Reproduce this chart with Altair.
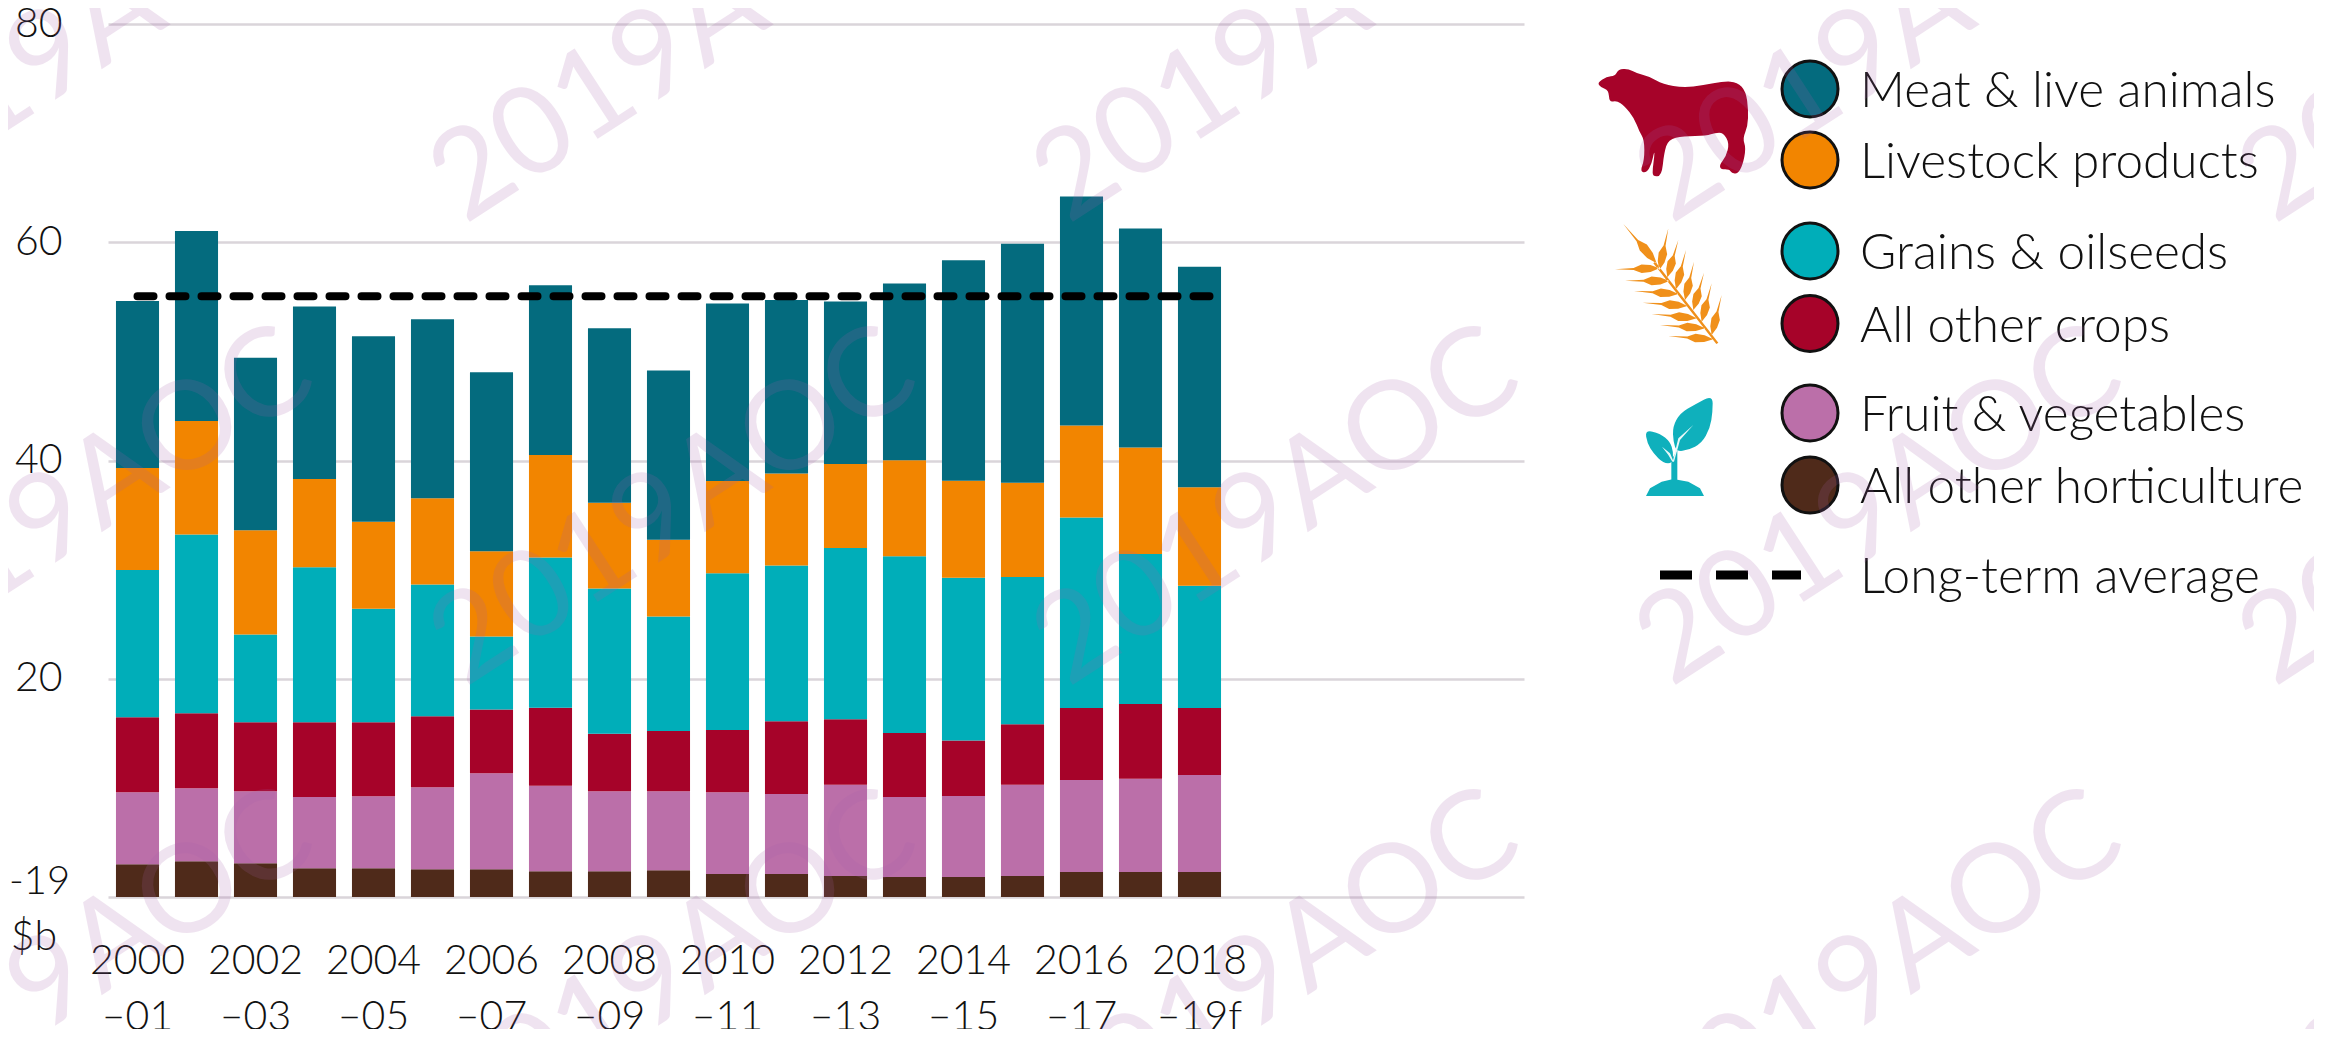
import altair as alt
import pandas as pd

# ---- data ($b) ----
categories = ["2000–01","2001–02","2002–03","2003–04","2004–05","2005–06","2006–07","2007–08","2008–09","2009–10",
              "2010–11","2011–12","2012–13","2013–14","2014–15","2015–16","2016–17","2017–18","2018–19f"]
spare_slots = [" ", "  ", "   ", "    ", "     "]
other_horticulture = [3.0,3.27,3.09,2.63,2.63,2.54,2.54,2.35,2.35,2.44,2.11,2.11,1.92,1.83,1.83,1.92,2.29,2.29,2.29]
fruit_vegetables   = [6.6,6.69,6.6,6.54,6.6,7.52,8.8,7.85,7.33,7.24,7.49,7.33,8.37,7.33,7.42,8.37,8.43,8.55,8.89]
other_crops        = [6.87,6.87,6.32,6.84,6.78,6.51,5.84,7.15,5.29,5.53,5.71,6.66,5.99,5.87,5.1,5.53,6.6,6.84,6.14]
grains_oilseeds    = [13.5,16.4,8.04,14.2,10.4,12.07,6.69,13.75,13.3,10.5,14.36,14.27,15.7,16.2,14.9,13.5,17.45,13.75,11.2]
livestock_products = [9.35,10.4,9.56,8.1,7.97,7.91,7.82,9.41,7.85,7.03,8.46,8.43,7.7,8.8,8.89,8.65,8.43,9.75,9.04]
meat_live_animals  = [15.3,17.4,15.8,15.8,17.0,16.4,16.4,15.55,16.0,15.5,16.25,15.9,14.9,16.2,20.2,21.9,21.0,20.07,20.2]
long_term_average = 55.05

names = ["All other horticulture","Fruit & vegetables","All other crops","Grains & oilseeds","Livestock products","Meat & live animals"]
series = [other_horticulture, fruit_vegetables, other_crops, grains_oilseeds, livestock_products, meat_live_animals]
colors = ["#4F2A1A","#BB6FA9","#A60329","#00AEB9","#F28500","#046B7E"]
y_ticks = [0,20,40,60,80]
watermark = "2019AOC"

# ---- layout (page pixels) ----
PL, PT, W, H = 108, 24, 1416, 873
FONT, WEIGHT = "Lato", 300
INK = "#111111"
def px(x): return x - PL
def py(y): return y - PT

rows = [{"cat":c,"name":n,"idx":i,"v":s[j]} for i,(n,s) in enumerate(zip(names,series)) for j,c in enumerate(categories)]
df = pd.DataFrame(rows)
domain = categories + spare_slots
xscale = alt.Scale(domain=domain, paddingInner=0.27, paddingOuter=0.135)
yscale = alt.Scale(domain=[0,80], nice=False)

bars = alt.Chart(df).mark_bar().encode(
    x=alt.X("cat:N", scale=xscale, title=None, sort=None, axis=alt.Axis(
        values=categories[::2], labelAngle=0, labelOverlap=False, ticks=False, domain=False, grid=False,
        labelExpr="[slice(datum.label,0,4), slice(datum.label,4)]",
        labelFont=FONT, labelFontWeight=WEIGHT, labelFontSize=41, labelColor=INK,
        labelLineHeight=56, labelPadding=44, labelBaseline="top", labelAlign="center")),
    y=alt.Y("v:Q", stack="zero", scale=yscale, title=None, axis=alt.Axis(
        values=y_ticks, grid=True, gridColor="#DAD5DA", gridWidth=2.5, ticks=False, domain=False,
        labelExpr="datum.value==0 ? '' : datum.label",
        labelFont=FONT, labelFontWeight=WEIGHT, labelFontSize=41, labelColor=INK, labelPadding=46)),
    color=alt.Color("name:N", scale=alt.Scale(domain=names, range=colors), legend=None),
    order=alt.Order("idx:Q"),
)

avg = alt.Chart(pd.DataFrame({"cat":[categories[0]],"v":[long_term_average]})).mark_rule(
    color="black", strokeWidth=8, strokeDash=[16,16], strokeCap="round").encode(
    x=alt.X("cat:N", scale=xscale), x2=alt.value(px(1224)), y=alt.Y("v:Q", scale=yscale))

def label(text, x, y, size=41, align="left", base="middle"):
    return alt.Chart(pd.DataFrame({"t":[text]})).mark_text(
        font=FONT, fontWeight=WEIGHT, fontSize=size, color=INK, align=align, baseline=base).encode(
        x=alt.value(px(x)), y=alt.value(py(y)), text="t:N")

layers = [bars, avg, label("-19", 9, 882, size=40, align="left"), label("$b", 57, 938, align="right")]

# ---- legend ----
legend_rows = [("Meat & live animals",89),("Livestock products",160),("Grains & oilseeds",251),
               ("All other crops",323.5),("Fruit & vegetables",413),("All other horticulture",485)]
cmap = dict(zip(names,colors))
for n,y in legend_rows:
    layers.append(alt.Chart(pd.DataFrame({"n":[n]})).mark_point(filled=True, shape="circle", size=3136,
        fill=cmap[n], stroke="#111111", strokeWidth=3, opacity=1).encode(
        x=alt.value(px(1810)), y=alt.value(py(y))))
    layers.append(label(n, 1860, y+3, size=49.5))
layers.append(alt.Chart(pd.DataFrame({"v":[1]})).mark_rule(color="black", strokeWidth=9, strokeDash=[32,24]).encode(
    x=alt.value(px(1660)), x2=alt.value(px(1801)), y=alt.value(py(575))))
layers.append(label("Long-term average", 1860, 578, size=49.5))

# ---- icons: silhouettes as custom symbols, outlined in 3x crop coordinates of the icon's box ----
def icon(polys, fill, ox, oy, smooth=()):
    pts = [(ox+a/3, oy+b/3) for p in polys for a,b in p]
    xs,ys = [a for a,_ in pts],[b for _,b in pts]
    cx,cy = (min(xs)+max(xs))/2,(min(ys)+max(ys))/2
    R = max(max(xs)-min(xs),max(ys)-min(ys))/2
    d = ""
    for k,p in enumerate(polys):
        q = [((ox+a/3-cx)/R,(oy+b/3-cy)/R) for a,b in p]
        if k in smooth:
            n = len(q)
            mid = lambda i: ((q[i%n][0]+q[(i+1)%n][0])/2,(q[i%n][1]+q[(i+1)%n][1])/2)
            s = mid(-1)
            d += f"M{s[0]:.4f},{s[1]:.4f}"
            for i in range(n):
                m = mid(i)
                d += f"Q{q[i][0]:.4f},{q[i][1]:.4f},{m[0]:.4f},{m[1]:.4f}"
            d += "Z"
        else:
            d += "M" + "L".join(f"{a:.4f},{b:.4f}" for a,b in q) + "Z"
    return alt.Chart(pd.DataFrame({"i":[1]})).mark_point(filled=True, shape=d, size=(2*R)**2, fill=fill, opacity=1, strokeWidth=0).encode(
        x=alt.value(px(cx)), y=alt.value(py(cy)))

cow = [[(22,68),(50,50),(75,48),(85,28),(115,26),(140,40),(175,48),(220,73),(280,83),(340,76),(400,64),(442,66),(468,95),
        (475,150),(473,200),(458,235),(468,265),(458,315),(443,342),(425,339),(418,328),(393,328),(388,315),(408,290),(418,250),
        (400,218),(375,218),(350,228),(280,228),(235,238),(222,280),(215,348),(188,350),(188,325),(193,290),(193,272),(185,312),
        (170,338),(150,335),(163,300),(163,240),(148,215),(133,175),(103,137),(80,122),(58,127),(56,90),(32,82)]]

def grain(tx,ty,bx,by,hw=13):
    ux,uy = bx-tx,by-ty
    L = (ux*ux+uy*uy)**0.5
    nx,ny = -uy/L,ux/L
    at = lambda t,w: (tx+ux*t+nx*w, ty+uy*t+ny*w)
    return [at(0,0),at(0.42,3),at(0.6,hw),at(0.8,hw*0.8),at(1,0),at(0.8,-hw*0.8),at(0.6,-hw),at(0.42,-3)]
wheat = [grain(40,12,140,130,14), [(136,125),(325,368),(319,372),(130,130)]]
for t,b in [((15,148),(148,145)),((45,182),(178,183)),((72,213),(205,222)),((98,248),(232,258)),
            ((125,282),(260,295)),((150,315),(285,325)),((175,348),(310,358))]:
    wheat.append(grain(*t,*b))
for t,b in [((175,25),(148,150)),((205,60),(172,172)),((228,90),(198,208)),((252,125),(225,240)),
            ((282,158),(250,270)),((305,190),(275,305)),((335,225),(305,345))]:
    wheat.append(grain(*t,*b))
seedling = [[(248,30),(195,58),(150,85),(128,125),(130,170),(140,200),(175,195),(215,175),(240,130),(248,80)],
            [(45,135),(90,145),(120,170),(130,200),(128,235),(100,235),(70,205),(52,175)],
            [(124,225),(142,195),(142,285),(124,285)],
            [(48,333),(60,310),(95,290),(130,282),(175,290),(210,310),(222,333)]]
veins = [[(190,120),(150,165),(132,230),(128,230),(145,160)],
         [(96,185),(120,205),(130,228),(127,230),(115,210)]]
layers += [icon(cow,"#A60329",1590,60,smooth=(0,)), icon(wheat,"#F0901A",1610,220),
           icon(seedling,"#0FB0BC",1630,385,smooth=(0,1)), icon(veins,"#E8F8F8",1630,385)]

# ---- repeating watermark ----
for wy in [225,688,1151]:
    for wx in [-138,465,1068,1671,2274]:
        layers.append(alt.Chart(pd.DataFrame({"t":[watermark]})).mark_text(
            font=FONT, fontWeight=400, fontSize=123, angle=327, align="left", baseline="alphabetic",
            color="#A55FAA", opacity=0.17).encode(x=alt.value(px(wx)), y=alt.value(py(wy)), text="t:N"))

chart = alt.layer(*layers).resolve_scale(color="independent").properties(
    width=W, height=H, padding={"left":PL-8,"top":PT-8,"right":790,"bottom":132},
    autosize=alt.AutoSizeParams(type="none"), background="white",
).configure_view(stroke=None)
chart.save("out.html", embed_options={"renderer":"svg","actions":False})
